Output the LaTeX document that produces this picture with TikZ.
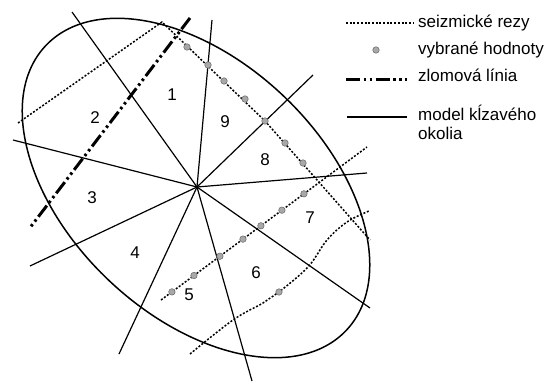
\documentclass[tikz,border=0pt]{standalone}
\usepackage{fontspec}
\setmainfont{Liberation Sans}
\usetikzlibrary{calc}
\definecolor{sedabod}{HTML}{A8A8A8}
\tikzset{
  spoke/.style={line width=1.2pt, draw=black},
  obrys/.style={line width=1.5pt, draw=black},
  rez/.style={line width=1.5pt, dash pattern=on 2pt off 1.7pt},
  zlom/.style={line width=3pt, dash pattern=on 14pt off 3.5pt on 2.5pt off 3.5pt on 2.5pt off 3.5pt},
  hodnota/.style={circle, fill=sedabod, draw=gray!80!black, line width=0.5pt, inner sep=0pt, minimum size=6.5pt},
  cislo/.style={font=\fontsize{17}{20}\selectfont, inner sep=0pt},
  popis/.style={font=\fontsize{17}{19}\selectfont, anchor=base west, inner sep=0pt},
}
\begin{document}
\begin{tikzpicture}[x=1pt, y=1pt]
  \useasboundingbox (0,0) rectangle (552,383);
  \coordinate (stred) at (197,196);
  % okolie
  \draw[obrys] (196,195) ellipse [x radius=207, y radius=127, rotate=-43.5];
  % sektory
  \foreach \x/\y [count=\i] in {72/371, 212/363, 313/308, 367/210, 370/75, 252/2, 119/29, 30/117, 13/243}{
    \coordinate (k\i) at (\x,\y);
    \draw[spoke] (stred) -- (k\i);
  }
  % zlom
  \coordinate (z1) at (190,365); \coordinate (z2) at (29,154);
  \draw[zlom] (z1) -- (z2);
  % seizmicke rezy
  \coordinate (a1) at (18,260); \coordinate (a2) at (162,361);
  \coordinate (a3) at (265,262); \coordinate (a4) at (370,143);
  \draw[rez] (a1) -- (a2) -- (a3) -- (a4);
  \coordinate (b1) at (161,83); \coordinate (b2) at (367,236);
  \draw[rez] (b1) -- (b2);
  \draw[rez] plot[smooth, tension=0.6] coordinates {(190,29) (233,63) (263,80) (279,91) (308,116) (327,143) (347,161) (369,172)};
  % vybrane hodnoty
  \foreach \x/\y [count=\i] in {187/336, 208/318, 224/302, 245/284, 265/262, 285/240, 303/220}
    \node[hodnota] (ha\i) at (\x,\y) {};
  \foreach \p [count=\i] in {0.053, 0.160, 0.286, 0.398, 0.485, 0.587, 0.694}
    \node[hodnota] (hb\i) at ($(b1)!\p!(b2)$) {};
  \node[hodnota] (hc1) at (279,91) {};
  % cisla sektorov
  \node[cislo] (n1) at (172,288) {1};
  \node[cislo] (n2) at (95,265) {2};
  \node[cislo] (n3) at (92,185) {3};
  \node[cislo] (n4) at (135,130) {4};
  \node[cislo] (n5) at (189,88) {5};
  \node[cislo] (n6) at (256,110) {6};
  \node[cislo] (n7) at (310,165) {7};
  \node[cislo] (n8) at (265,223) {8};
  \node[cislo] (n9) at (225,261) {9};
  % legenda
  \coordinate (l1a) at (346,360); \coordinate (l1b) at (413,360);
  \draw[rez] (l1a) -- (l1b);
  \node[popis] (t1) at (418,355) {seizmické rezy};
  \node[hodnota] (l2) at (376,333) {};
  \node[popis] (t2) at (418,328) {vybrané hodnoty};
  \coordinate (l3a) at (346,303); \coordinate (l3b) at (407,303);
  \draw[zlom] (l3a) -- (l3b);
  \node[popis] (t3) at (418,301) {zlomová línia};
  \coordinate (l4a) at (347,266); \coordinate (l4b) at (407,266);
  \draw[spoke] (l4a) -- (l4b);
  \node[popis] (t4) at (418,262) {model kĺzavého};
  \node[popis] (t5) at (418,243) {okolia};
\end{tikzpicture}
\end{document}
